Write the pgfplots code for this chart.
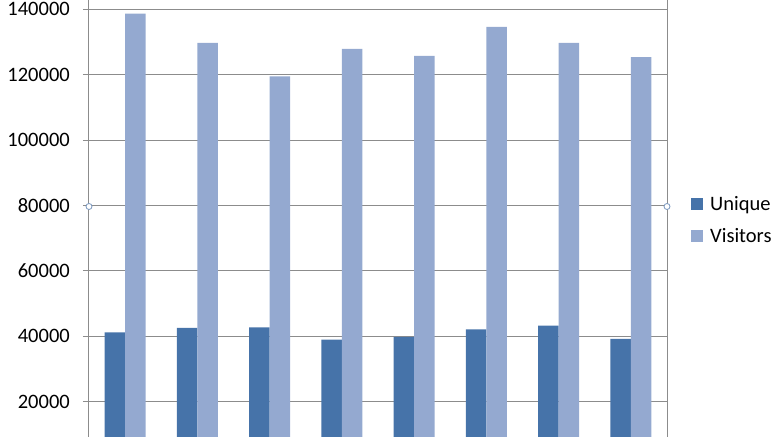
\documentclass[border=0pt]{standalone}
\usepackage{pgfplots}
\pgfplotsset{compat=1.18}
\usepackage{fontspec}
\setmainfont{Carlito}
\definecolor{darkbar}{RGB}{70,115,169}
\definecolor{lightbar}{RGB}{148,169,208}
\definecolor{gridc}{RGB}{140,140,140}
\definecolor{handle}{RGB}{120,150,190}
\begin{document}
\begin{tikzpicture}
\begin{axis}[
  name=ax,
  scale only axis,
  width=578bp, height=437bp,
  xmin=-0.5, xmax=7.5,
  ymin=9200, ymax=142850,
  ytick={20000,40000,...,140000},
  scaled y ticks=false,
  xtick=\empty,
  ymajorgrids,
  grid style={draw=gridc, line width=1bp},
  axis lines=box,
  separate axis lines,
  x axis line style={draw=none},
  y axis line style={draw=gridc, line width=1bp},
  ytick pos=left,
  tick align=outside,
  major tick length=6bp,
  tick style={draw=gridc, line width=1bp},
  /pgf/number format/assume math mode=true,
  /pgf/number format/1000 sep={},
  /pgf/number format/fixed,
  yticklabel style={font=\fontsize{20.5bp}{24bp}\selectfont, inner sep=0pt, xshift=-13bp},
  ybar=0pt, bar width=20.5bp,
  legend cell align=left,
  legend image code/.code={\fill[#1] (0bp,-6bp) rectangle (12bp,6bp);},
  legend style={draw=none, fill=none, at={(1,0.496)}, anchor=west, xshift=21bp,
    font=\fontsize{20.5bp}{24bp}\selectfont, row sep=14bp,
    nodes={inner sep=1bp},
    /tikz/every odd column/.append style={column sep=6bp}},
  clip=true,
]
\addplot[fill=darkbar, draw=none] coordinates {
  (0,41220) (1,42540) (2,42750) (3,38990) (4,39800) (5,42140) (6,43270) (7,39180)};
\addplot[fill=lightbar, draw=none] coordinates {
  (0,138690) (1,129700) (2,119490) (3,127880) (4,125760) (5,134650) (6,129700) (7,125350)};
\legend{Unique,Visitors}
\end{axis}
\draw[handle, fill=white, line width=0.8bp] ([yshift=12bp]ax.west) circle (3bp);
\draw[handle, fill=white, line width=0.8bp] ([yshift=12bp]ax.east) circle (3bp);
\pgfresetboundingbox
\path ([xshift=-89bp]ax.south west) rectangle ([xshift=110bp]ax.north east);
\end{tikzpicture}
\end{document}
